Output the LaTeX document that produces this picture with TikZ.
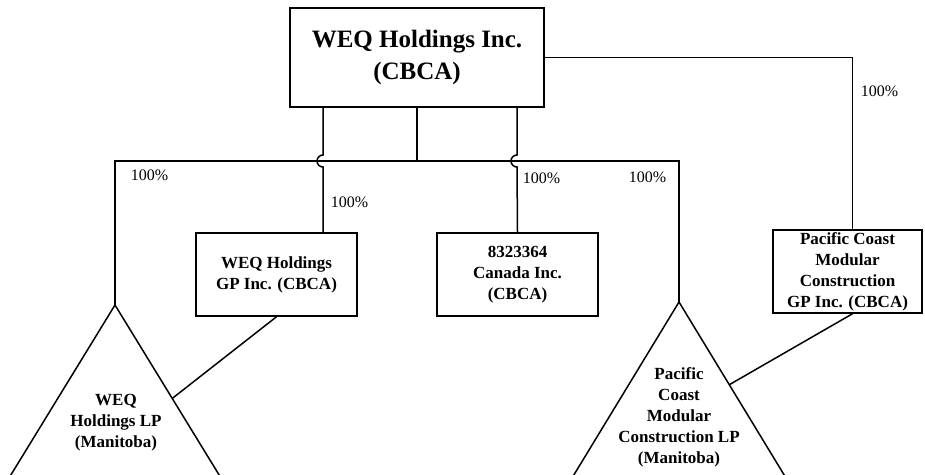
\documentclass[tikz,border=0pt]{standalone}
\usepackage{fontspec}
\setmainfont{Liberation Serif}
\usetikzlibrary{calc}

\begin{document}
\begin{tikzpicture}[x=1pt,y=-1pt,line width=1.5pt,
    box/.style={draw,rectangle,align=center,inner sep=0pt,
        font=\bfseries\fontsize{17}{21}\selectfont},
    lp/.style={align=center,inner sep=0pt,
        font=\bfseries\fontsize{17}{21}\selectfont},
    pct/.style={anchor=west,inner sep=0pt,font=\fontsize{16}{19}\selectfont}]
        \useasboundingbox (0,0) rectangle (925,474);

        % companies
        \node[box,minimum width=254pt,minimum height=99pt,
            font=\bfseries\fontsize{25}{32}\selectfont]
            (weq) at (417,57.5) {WEQ Holdings Inc.\\(CBCA)};
        \node[box,minimum width=161pt,minimum height=83pt] (weqgp) at (276.5,274.5) {WEQ Holdings\\GP Inc. (CBCA)};
        \node[box,minimum width=161pt,minimum height=83pt] (can) at (517.5,274.5) {8323364\\Canada Inc.\\(CBCA)};
        \node[box,minimum width=149pt,minimum height=83pt] (pcgp) at (847.5,271.5) {Pacific Coast\\Modular\\Construction\\GP Inc. (CBCA)};

        % partnerships
        \coordinate (weqlpA) at (115,305);
        \coordinate (weqlpL) at (9,478);
        \coordinate (weqlpR) at (221,478);
        \coordinate (pclpA) at (679,302);
        \coordinate (pclpL) at (572,478);
        \coordinate (pclpR) at (786,478);
        \draw (weqlpL) -- (weqlpA) -- (weqlpR);
        \draw (pclpL) -- (pclpA) -- (pclpR);
        \node[lp] (weqlp) at (116,423) {WEQ\\Holdings LP\\(Manitoba)};
        \node[lp] (pclp) at (679,417) {Pacific\\Coast\\Modular\\Construction LP\\(Manitoba)};

        % ownership lines
        \coordinate (bus) at (417,161);
        \coordinate (j1) at (323,161);
        \coordinate (j2) at (517,161);
        \draw (weq.south) -- (bus);
        \draw (weqlpA) -- (weqlpA |- bus) -- (pclpA |- bus) -- (pclpA);
        \draw (weq.south -| j1) -- ($(j1)+(0,-6)$) arc[start angle=90,end angle=270,radius=6pt] -- (weqgp.north -| j1);
        \draw (weq.south -| j2) -- ($(j2)+(0,-6)$) arc[start angle=90,end angle=270,radius=6pt] -- (can.north);
        \draw (weq.east) -| ($(pcgp.north)+(5,0)$);

        % general partners
        \draw (weqgp.south) -- ($(weqlpA)!0.54!(weqlpR)$);
        \draw ($(pcgp.south)+(5,0)$) -- ($(pclpA)!0.47!(pclpR)$);

        \node[pct] (p1) at (130,175) {100\%};
        \node[pct] (p2) at (330,202) {100\%};
        \node[pct] (p3) at (522,178) {100\%};
        \node[pct] (p4) at (628,177) {100\%};
        \node[pct] (p5) at (860,91) {100\%};
\end{tikzpicture}
\end{document}
